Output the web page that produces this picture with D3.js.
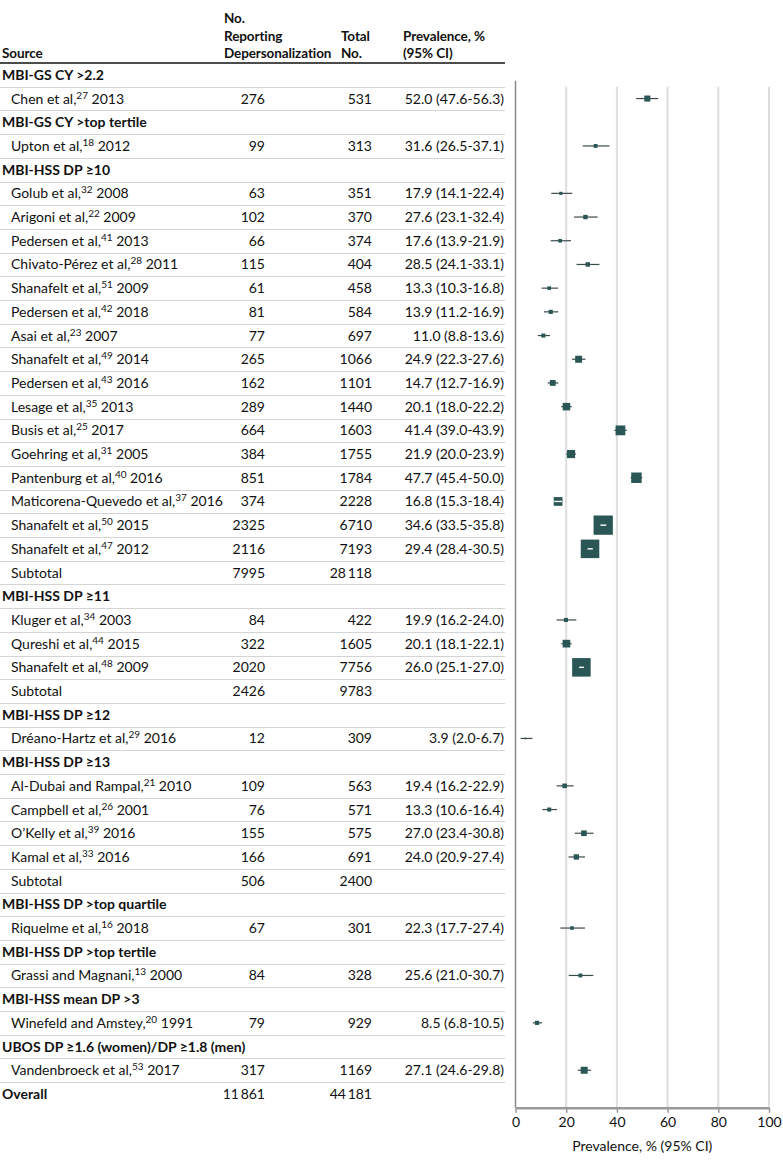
<!DOCTYPE html>
<html>
<head>
<meta charset="utf-8">
<script src="https://cdn.jsdelivr.net/npm/d3@7"></script>
<style>
  body { margin: 0; background: #fff; }
  svg { display: block; font-family: Lato, "Liberation Sans", Arial, sans-serif; }
</style>
</head>
<body>
<div id="chart"></div>
<script>
// subgroup headings
const groupLabels = [
  "MBI-GS CY >2.2",
  "MBI-GS CY >top tertile",
  "MBI-HSS DP \u226510",
  "MBI-HSS DP \u226511",
  "MBI-HSS DP \u226512",
  "MBI-HSS DP \u226513",
  "MBI-HSS DP >top quartile",
  "MBI-HSS DP >top tertile",
  "MBI-HSS mean DP >3",
  "UBOS DP \u22651.6 (women)/DP \u22651.8 (men)"
];

// one entry per study
const authors = [
  "Chen et al,", "Upton et al,", "Golub et al,", "Arigoni et al,", "Pedersen et al,",
  "Chivato-P\u00e9rez et al,", "Shanafelt et al,", "Pedersen et al,", "Asai et al,", "Shanafelt et al,",
  "Pedersen et al,", "Lesage et al,", "Busis et al,", "Goehring et al,", "Pantenburg et al,",
  "Maticorena-Quevedo et al,", "Shanafelt et al,", "Shanafelt et al,",
  "Kluger et al,", "Qureshi et al,", "Shanafelt et al,",
  "Dr\u00e9ano-Hartz et al,",
  "Al-Dubai and Rampal,", "Campbell et al,", "O\u2019Kelly et al,", "Kamal et al,",
  "Riquelme et al,", "Grassi and Magnani,", "Winefeld and Amstey,", "Vandenbroeck et al,"
];
const refs = [27, 18, 32, 22, 41, 28, 51, 42, 23, 49, 43, 35, 25, 31, 40, 37, 50, 47,
  34, 44, 48, 29, 21, 26, 39, 33, 16, 13, 20, 53];
const years = [2013, 2012, 2008, 2009, 2013, 2011, 2009, 2018, 2007, 2014, 2016, 2013, 2017, 2005, 2016, 2016, 2015, 2012,
  2003, 2015, 2009, 2016, 2010, 2001, 2016, 2016, 2018, 2000, 1991, 2017];
const studyGroup = [0, 1, 2, 2, 2, 2, 2, 2, 2, 2, 2, 2, 2, 2, 2, 2, 2, 2,
  3, 3, 3, 4, 5, 5, 5, 5, 6, 7, 8, 9];
const reporting = [276, 99, 63, 102, 66, 115, 61, 81, 77, 265, 162, 289, 664, 384, 851, 374, 2325, 2116,
  84, 322, 2020, 12, 109, 76, 155, 166, 67, 84, 79, 317];
const totals = [531, 313, 351, 370, 374, 404, 458, 584, 697, 1066, 1101, 1440, 1603, 1755, 1784, 2228, 6710, 7193,
  422, 1605, 7756, 309, 563, 571, 575, 691, 301, 328, 929, 1169];
const prevalence = [52.0, 31.6, 17.9, 27.6, 17.6, 28.5, 13.3, 13.9, 11.0, 24.9, 14.7, 20.1, 41.4, 21.9, 47.7, 16.8, 34.6, 29.4,
  19.9, 20.1, 26.0, 3.9, 19.4, 13.3, 27.0, 24.0, 22.3, 25.6, 8.5, 27.1];
const ciLow = [47.6, 26.5, 14.1, 23.1, 13.9, 24.1, 10.3, 11.2, 8.8, 22.3, 12.7, 18.0, 39.0, 20.0, 45.4, 15.3, 33.5, 28.4,
  16.2, 18.1, 25.1, 2.0, 16.2, 10.6, 23.4, 20.9, 17.7, 21.0, 6.8, 24.6];
const ciHigh = [56.3, 37.1, 22.4, 32.4, 21.9, 33.1, 16.8, 16.9, 13.6, 27.6, 16.9, 22.2, 43.9, 23.9, 50.0, 18.4, 35.8, 30.5,
  24.0, 22.1, 27.0, 6.7, 22.9, 16.4, 30.8, 27.4, 27.4, 30.7, 10.5, 29.8];
// study weights (square area)
const weights = [150, 60, 40, 80, 54, 82, 53, 70, 68, 199, 138, 231, 389, 270, 445, 311, 1518, 1400,
  67, 240, 1400, 12, 88, 66, 130, 115, 52, 62, 72, 200];

const subtotalGroup = [2, 3, 5];
const subtotalReporting = [7995, 2426, 506];
const subtotalTotal = [28118, 9783, 2400];
const overallReporting = 11861;
const overallTotal = 44181;

const xTicks = [0, 20, 40, 60, 80, 100];
const axisTitle = "Prevalence, % (95% CI)";

// ---- build table rows ----
const rows = [];
groupLabels.forEach((label, g) => {
  rows.push({ type: "group", label: label });
  authors.forEach((a, i) => {
    if (studyGroup[i] === g) rows.push({ type: "study", i: i });
  });
  const s = subtotalGroup.indexOf(g);
  if (s >= 0) rows.push({ type: "subtotal", rep: subtotalReporting[s], tot: subtotalTotal[s] });
});
rows.push({ type: "overall", rep: overallReporting, tot: overallTotal });

const width = 783, height = 1161;
const headerBottom = 63;
const rowH = 23.7;
const tableRight = 505;
const colRep = 265, colTot = 372, colPrev = 504;
const fontSize = 14;

const fmtN = n => n >= 10000 ? d3.format(",")(n).replace(/,/g, "\u2009") : String(n);
const fmtP = v => v.toFixed(1);

const svg = d3.select("#chart").append("svg")
  .attr("width", width)
  .attr("height", height);

const y = d3.scaleBand()
  .domain(d3.range(rows.length))
  .range([headerBottom, headerBottom + rows.length * rowH]);

const x = d3.scaleLinear().domain([0, 100]).range([515.5, 769]);

const size = d3.scaleSqrt().domain([0, d3.max(weights)]).range([0, 19.3]);

const axisY = y.range()[1] + 2;
const plotTop = y(1);

// ---- header ----
const head = svg.append("g")
  .attr("font-size", 13.5)
  .attr("font-weight", "bold")
  .attr("letter-spacing", -0.1)
  .attr("fill", "#111");

head.append("text").attr("x", 2).attr("y", 58).text("Source");
head.append("text").attr("x", 224).attr("y", 23).text("No.");
head.append("text").attr("x", 224).attr("y", 41).text("Reporting");
head.append("text").attr("x", 224).attr("y", 58).text("Depersonalization");
head.append("text").attr("x", 341).attr("y", 41).text("Total");
head.append("text").attr("x", 341).attr("y", 58).text("No.");
head.append("text").attr("x", 403).attr("y", 41).text("Prevalence, %");
head.append("text").attr("x", 403).attr("y", 58).text("(95% CI)");

// row separators
svg.append("g").selectAll("line")
  .data(d3.range(rows.length - 1))
  .join("line")
    .attr("x1", 0)
    .attr("x2", tableRight)
    .attr("y1", d => Math.round(y(d) + y.bandwidth()) + 0.5)
    .attr("y2", d => Math.round(y(d) + y.bandwidth()) + 0.5)
    .attr("stroke", "#d4d4d4")
    .attr("stroke-width", 1);

svg.append("line")
  .attr("x1", 0).attr("x2", tableRight)
  .attr("y1", headerBottom).attr("y2", headerBottom)
  .attr("stroke", "#111")
  .attr("stroke-width", 1.6);

// ---- table text ----
const body = svg.append("g")
  .attr("font-size", fontSize)
  .attr("fill", "#111");

rows.forEach((r, k) => {
  const cy = y(k) + y.bandwidth() / 2 + 5;
  if (r.type === "group") {
    body.append("text").attr("x", 2).attr("y", cy)
      .attr("font-weight", "bold").text(r.label);
  } else if (r.type === "study") {
    const i = r.i;
    const t = body.append("text").attr("x", 11).attr("y", cy);
    t.append("tspan").text(authors[i]);
    t.append("tspan").attr("font-size", 10).attr("dy", -5).text(refs[i]);
    t.append("tspan").attr("dy", 5).text(" " + years[i]);
    body.append("text").attr("x", colRep).attr("y", cy).attr("text-anchor", "end").text(fmtN(reporting[i]));
    body.append("text").attr("x", colTot).attr("y", cy).attr("text-anchor", "end").text(fmtN(totals[i]));
    body.append("text").attr("x", colPrev).attr("y", cy).attr("text-anchor", "end")
      .text(fmtP(prevalence[i]) + " (" + fmtP(ciLow[i]) + "-" + fmtP(ciHigh[i]) + ")");
  } else {
    const bold = r.type === "overall";
    body.append("text").attr("x", bold ? 2 : 11).attr("y", cy)
      .attr("font-weight", bold ? "bold" : null)
      .text(bold ? "Overall" : "Subtotal");
    body.append("text").attr("x", colRep).attr("y", cy).attr("text-anchor", "end").text(fmtN(r.rep));
    body.append("text").attr("x", colTot).attr("y", cy).attr("text-anchor", "end").text(fmtN(r.tot));
  }
});

// ---- forest plot ----
const plot = svg.append("g");

plot.append("g").selectAll("line")
  .data(xTicks.filter(d => d > 0))
  .join("line")
    .attr("x1", d => x(d)).attr("x2", d => x(d))
    .attr("y1", plotTop).attr("y2", axisY)
    .attr("stroke", "#dedede")
    .attr("stroke-width", 2);

plot.append("line")
  .attr("x1", x(0)).attr("x2", x(0))
  .attr("y1", plotTop - 6).attr("y2", axisY)
  .attr("stroke", "#8a8a8a")
  .attr("stroke-width", 1.5);

const xAxis = d3.axisBottom(x).tickValues(xTicks).tickSize(5).tickSizeOuter(0);
const gx = plot.append("g")
  .attr("transform", "translate(0," + axisY + ")")
  .call(xAxis);
gx.select(".domain").attr("stroke", "#999").attr("stroke-width", 2.5);
gx.selectAll(".tick line").attr("stroke", "#999").attr("stroke-width", 1.5);
gx.selectAll(".tick text")
  .attr("font-family", "Lato, \"Liberation Sans\", Arial, sans-serif")
  .attr("font-size", fontSize)
  .attr("fill", "#111")
  .attr("dy", "0.8em");

plot.append("text")
  .attr("x", (x(0) + x(100)) / 2)
  .attr("y", 1151)
  .attr("text-anchor", "middle")
  .attr("font-size", fontSize)
  .attr("fill", "#111")
  .text(axisTitle);

const studyRows = rows.map((r, k) => ({ r: r, k: k })).filter(d => d.r.type === "study");
const yc = d => y(d.k) + y.bandwidth() / 2;
const half = d => size(weights[d.r.i]) / 2;

// confidence intervals
plot.append("g").selectAll("line")
  .data(studyRows)
  .join("line")
    .attr("x1", d => x(ciLow[d.r.i]))
    .attr("x2", d => x(ciHigh[d.r.i]))
    .attr("y1", yc).attr("y2", yc)
    .attr("stroke", "#3d4a4a")
    .attr("stroke-width", 1.2);

// weighted squares
plot.append("g").selectAll("rect")
  .data(studyRows)
  .join("rect")
    .attr("x", d => x(prevalence[d.r.i]) - half(d))
    .attr("y", d => yc(d) - half(d))
    .attr("width", d => 2 * half(d))
    .attr("height", d => 2 * half(d))
    .attr("fill", "#2b5656");

// CI shown in white when it lies wholly inside its square
plot.append("g").selectAll("line")
  .data(studyRows.filter(d => {
    const i = d.r.i, cx = x(prevalence[i]);
    return x(ciLow[i]) >= cx - half(d) - 0.5 && x(ciHigh[i]) <= cx + half(d) + 0.5;
  }))
  .join("line")
    .attr("x1", d => Math.max(x(ciLow[d.r.i]), x(prevalence[d.r.i]) - half(d) + 0.5))
    .attr("x2", d => Math.min(x(ciHigh[d.r.i]), x(prevalence[d.r.i]) + half(d) - 0.5))
    .attr("y1", yc).attr("y2", yc)
    .attr("stroke", "#fff")
    .attr("stroke-width", 1.4);
</script>
</body>
</html>
